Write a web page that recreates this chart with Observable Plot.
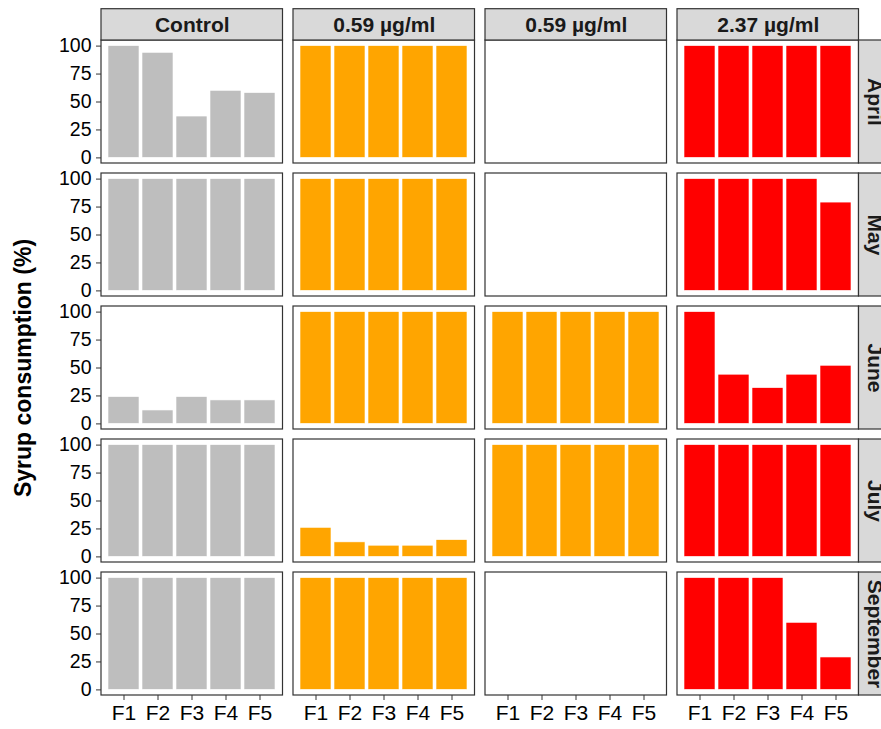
<!DOCTYPE html>
<html>
<head>
<meta charset="utf-8">
<script src="https://cdn.jsdelivr.net/npm/d3@7"></script>
<script src="https://cdn.jsdelivr.net/npm/@observablehq/plot@0.6"></script>
<style>
  html, body { margin: 0; padding: 0; background: #ffffff; }
  #chart svg { display: block; }
</style>
</head>
<body>
<div id="chart"></div>
<script>
// ---------- data ----------
const months = ["April", "May", "June", "July", "September"];
const families = ["F1", "F2", "F3", "F4", "F5"];
const treatmentKeys = ["control", "dose059a", "dose059b", "dose237"];
const treatmentLabels = ["Control", "0.59 µg/ml", "0.59 µg/ml", "2.37 µg/ml"];
const treatmentColors = ["#bebebe", "#ffa500", "#ffa500", "#ff0000"];
const yTicks = [0, 25, 50, 75, 100];
const yTitle = "Syrup consumption (%)";

// one row per month (April, May, June, July, September), values for F1..F5; null = no bars
const control  = [[100, 94, 37, 60, 58], [100, 100, 100, 100, 100], [24, 12, 24, 21, 21], [100, 100, 100, 100, 100], [100, 100, 100, 100, 100]];
const dose059a = [[100, 100, 100, 100, 100], [100, 100, 100, 100, 100], [100, 100, 100, 100, 100], [26, 13, 10, 10, 15], [100, 100, 100, 100, 100]];
const dose059b = [null, null, [100, 100, 100, 100, 100], [100, 100, 100, 100, 100], null];
const dose237  = [[100, 100, 100, 100, 100], [100, 100, 100, 100, 79], [100, 44, 32, 44, 52], [100, 100, 100, 100, 100], [100, 100, 100, 60, 29]];

const seriesByTreatment = [control, dose059a, dose059b, dose237];

// ---------- tables built from the arrays ----------
const bars = [];
seriesByTreatment.forEach((rows, ti) => {
  rows.forEach((vals, mi) => {
    if (!vals) return;
    vals.forEach((v, fi) => bars.push({t: treatmentKeys[ti], m: months[mi], f: families[fi], v}));
  });
});
const panels = treatmentKeys.flatMap(t => months.map(m => ({t, m})));
const colStrips = treatmentKeys.map((t, i) => ({t, m: months[0], label: treatmentLabels[i]}));
const rowStrips = months.map(m => ({t: treatmentKeys[treatmentKeys.length - 1], m}));
const titleRow = [{t: treatmentKeys[0], m: months[2], label: yTitle}];

// ---------- layout ----------
const W = 881, H = 729;
const marginLeft = 101, marginTop = 40;
const panelW = 181.5, gapX = 10.5, panelH = 123, gapY = 10, stripH = 31.3;
const marginRight = W - marginLeft - 4 * panelW - 3 * gapX;
const marginBottom = H - marginTop - 5 * panelH - 4 * gapY;
const border = "#333333";
const font = "'Liberation Sans', Arial, Helvetica, sans-serif";

const chart = Plot.plot({
  width: W,
  height: H,
  marginLeft, marginTop, marginRight, marginBottom,
  style: {fontFamily: font, color: "#000000", background: "#ffffff", overflow: "hidden"},
  fx: {domain: treatmentKeys, paddingInner: gapX / (panelW + gapX), paddingOuter: 0, round: false, axis: null, label: null},
  fy: {domain: months, paddingInner: gapY / (panelH + gapY), paddingOuter: 0, round: false, axis: null, label: null},
  x: {domain: families, paddingInner: 0.1, paddingOuter: 0.15, label: null},
  y: {domain: [0, 100], insetTop: 5.6, insetBottom: 5.6, label: null},
  color: {domain: treatmentKeys, range: treatmentColors},
  marks: [
    Plot.rect(panels, {fx: "t", fy: "m", fill: "#ffffff"}),
    Plot.barY(bars, {fx: "t", fy: "m", x: "f", y: "v", fill: "t", stroke: "#ffffff", strokeWidth: 0.6}),
    Plot.rect(panels, {fx: "t", fy: "m", fill: "none", stroke: border, strokeWidth: 1.2}),
    Plot.rect(colStrips, {fx: "t", fy: "m", fill: "#d9d9d9", stroke: border, strokeWidth: 1.2, insetTop: -stripH, insetBottom: panelH}),
    Plot.text(colStrips, {fx: "t", fy: "m", text: "label", frameAnchor: "top", lineAnchor: "middle", textAnchor: "middle", dy: -stripH / 2, fontSize: 21, fontWeight: "bold", fill: "#1a1a1a"}),
    Plot.rect(rowStrips, {fx: "t", fy: "m", fill: "#d9d9d9", stroke: border, strokeWidth: 1.2, insetLeft: panelW, insetRight: -stripH}),
    Plot.text(rowStrips, {fx: "t", fy: "m", text: "m", frameAnchor: "right", lineAnchor: "middle", textAnchor: "middle", dx: stripH / 2, rotate: 90, fontSize: 21, fontWeight: "bold", fill: "#1a1a1a"}),
    Plot.text(titleRow, {fx: "t", fy: "m", text: "label", frameAnchor: "left", lineAnchor: "middle", textAnchor: "middle", dx: -78, rotate: -90, fontSize: 23, fontWeight: "bold", fill: "#000000"}),
    Plot.axisY({ticks: yTicks, tickSize: 5, tickPadding: 5, fontSize: 19.5, label: null, stroke: border, fill: "#000000"}),
    Plot.axisX({tickSize: 5, tickPadding: 5, fontSize: 21, label: null, stroke: border, fill: "#000000"})
  ]
});

document.getElementById("chart").appendChild(chart);
</script>
</body>
</html>
